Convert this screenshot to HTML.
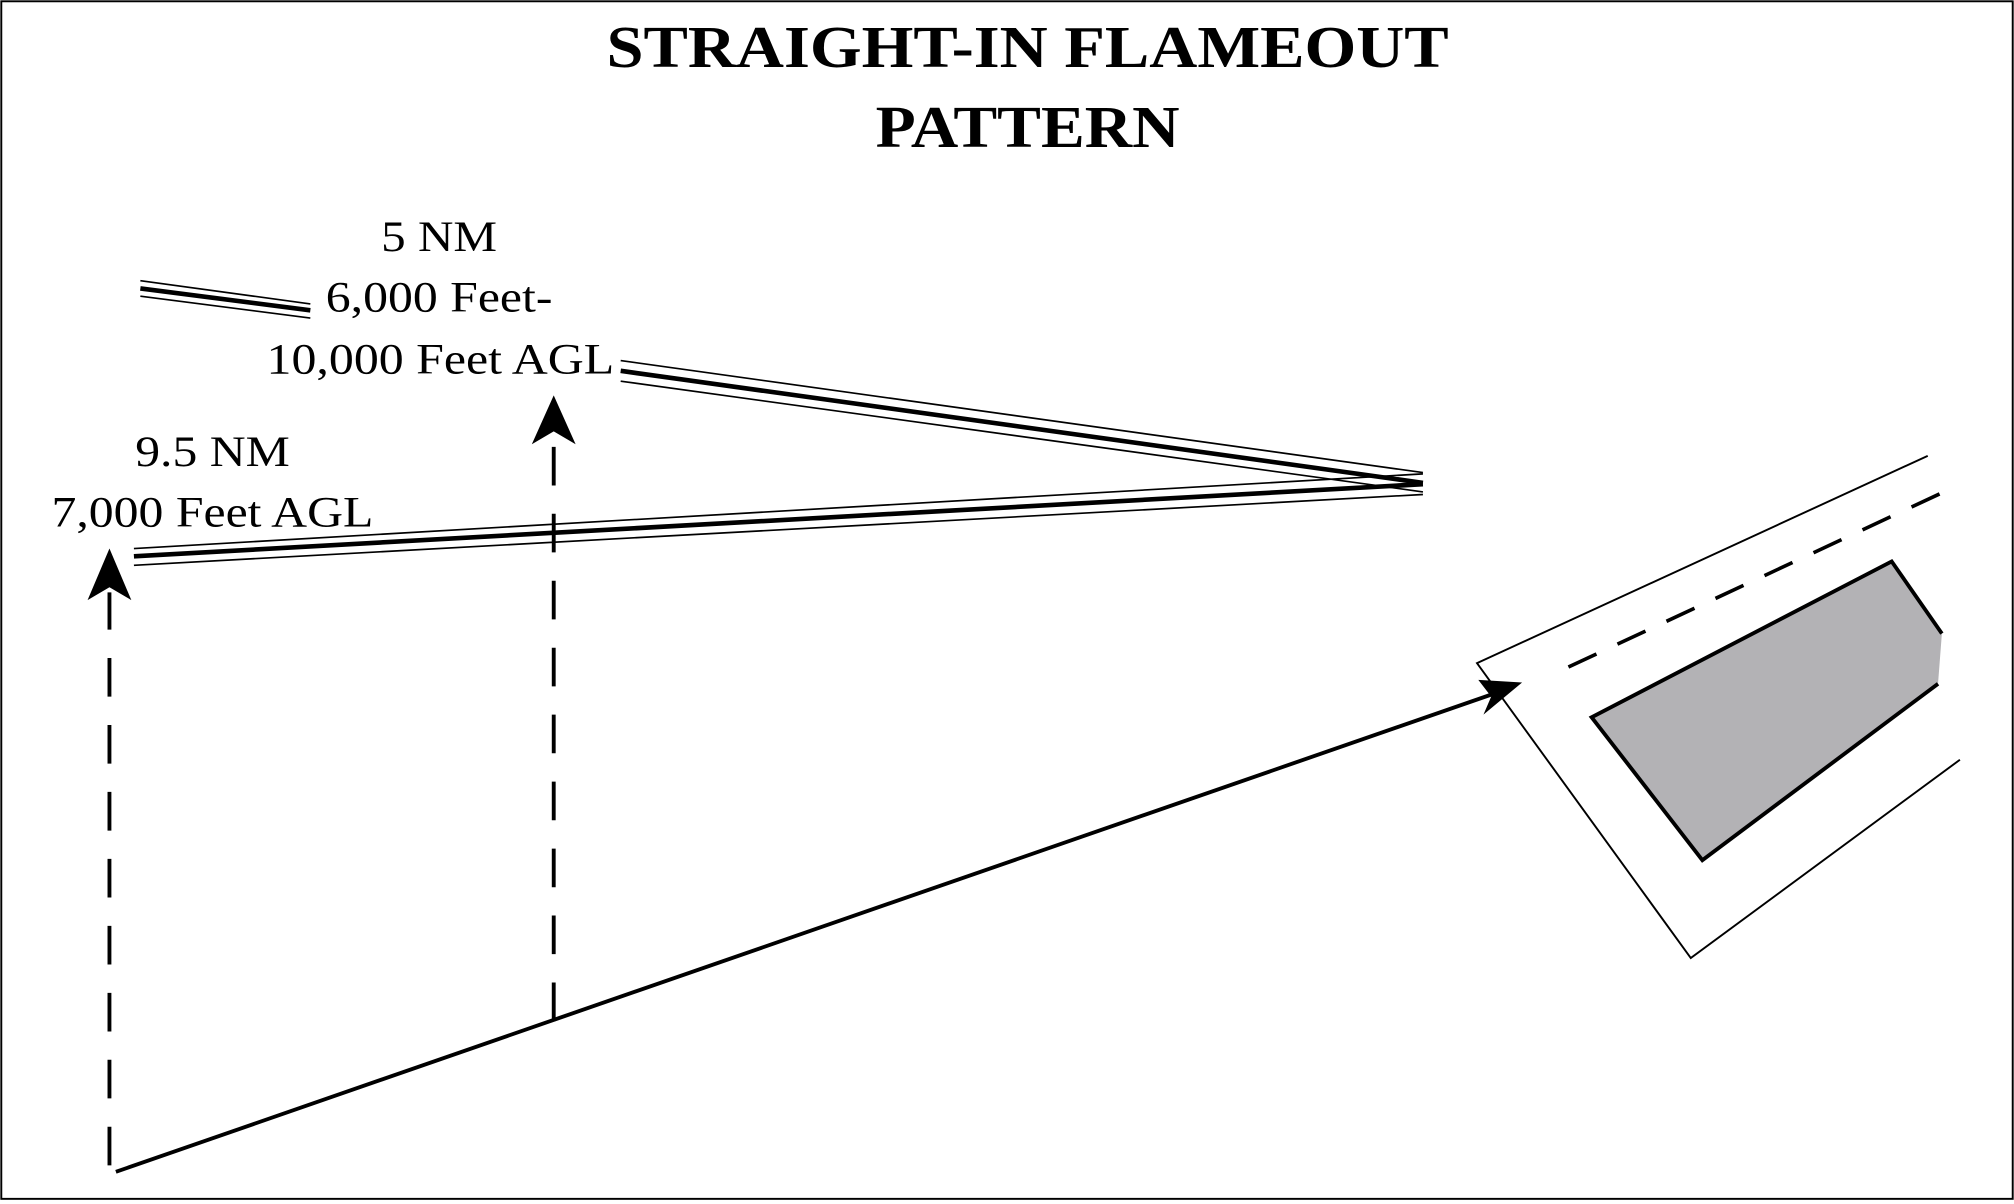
<!DOCTYPE html>
<html><head><style>html,body{margin:0;padding:0;background:#fff}svg{display:block}</style></head>
<body>
<svg width="2014" height="1204" viewBox="0 0 1564 935" preserveAspectRatio="none" xmlns="http://www.w3.org/2000/svg">
<rect x="1" y="1" width="1562" height="930" fill="#fff" stroke="#000" stroke-width="1.5"/>
<g font-family="Liberation Serif, serif" text-anchor="middle">
<text x="798" y="52" font-size="46" font-weight="bold" textLength="654" lengthAdjust="spacingAndGlyphs">STRAIGHT-IN FLAMEOUT</text>
<text x="798" y="114" font-size="46" font-weight="bold" textLength="236" lengthAdjust="spacingAndGlyphs">PATTERN</text>
<text x="341" y="195" font-size="34" textLength="90" lengthAdjust="spacingAndGlyphs">5 NM</text>
<text x="341" y="242" font-size="34" textLength="176" lengthAdjust="spacingAndGlyphs">6,000 Feet-</text>
<text x="342" y="290" font-size="34" textLength="270" lengthAdjust="spacingAndGlyphs">10,000 Feet AGL</text>
<text x="165" y="362" font-size="34" textLength="120" lengthAdjust="spacingAndGlyphs">9.5 NM</text>
<text x="165" y="409" font-size="34" textLength="250" lengthAdjust="spacingAndGlyphs">7,000 Feet AGL</text>
</g>
<g stroke="#000" fill="none">
<line x1="109" y1="218" x2="241" y2="236" stroke-width="1.3"/>
<line x1="109" y1="224" x2="241" y2="241" stroke-width="3.6"/>
<line x1="109" y1="230" x2="241" y2="247" stroke-width="1.3"/>
<line x1="482" y1="280" x2="1105" y2="367" stroke-width="1.3"/>
<line x1="482" y1="288" x2="1105" y2="375" stroke-width="3.6"/>
<line x1="482" y1="296" x2="1105" y2="382" stroke-width="1.3"/>
<line x1="104" y1="426" x2="1105" y2="368" stroke-width="1.3"/>
<line x1="104" y1="432" x2="1105" y2="376" stroke-width="3.6"/>
<line x1="104" y1="439" x2="1105" y2="384" stroke-width="1.3"/>
<line x1="85" y1="905" x2="85" y2="460" stroke-width="3" stroke-dasharray="30,22"/>
<line x1="430" y1="793" x2="430" y2="345" stroke-width="3" stroke-dasharray="30,22"/>
<line x1="90" y1="910" x2="1165" y2="537" stroke-width="3"/>
<polyline points="1497,354 1147,515 1313,744 1522,590" stroke-width="1.5"/>
<line x1="1218" y1="518" x2="1516" y2="379" stroke-width="2.8" stroke-dasharray="24,18"/>
<polygon points="1236,557 1469,436 1508,492 1505,531 1322,668" fill="#b3b2b5" stroke="none"/>
<polyline points="1505,531 1322,668 1236,557 1469,436 1508,492" stroke-width="3"/>
</g>
<g fill="#000">
<polygon points="85,426 102,466 85,456 68,466"/>
<polygon points="430,307 447,345 430,335 413,345"/>
<polygon points="1182,530 1152,555 1158,541 1148,528"/>
</g>
</svg>
</body></html>
